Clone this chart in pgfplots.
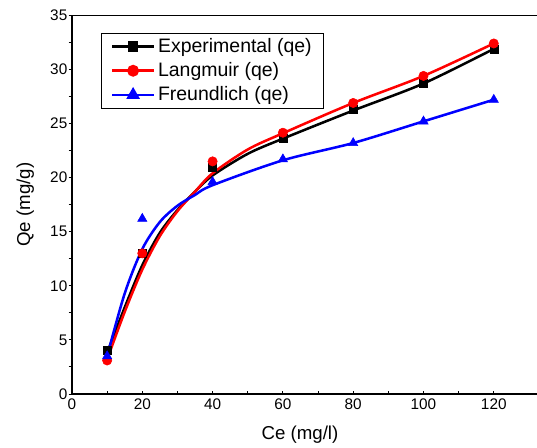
\documentclass[border=0pt]{standalone}
\usepackage{fontspec}
\setmainfont{Liberation Sans}
\usepackage{pgfplots}
\pgfplotsset{compat=1.18}

\begin{document}
\begin{tikzpicture}
\begin{axis}[
    scale only axis,
    width=348.75pt, height=284pt,
    xmin=0, xmax=132.3, ymin=0, ymax=35,
    axis lines=left,
    axis line style={-, line width=0.9pt},
    xtick={0,20,...,120}, ytick={0,5,...,35},
    minor tick num=1,
    tick align=inside,
    major tick length=2.5pt, minor tick length=2.5pt,
    y tick style={xshift=-2.5pt},
    tick style={black, line width=0.7pt},
    /pgf/number format/assume math mode=true,
    ticklabel style={font=\fontsize{11.5}{13}\selectfont},
    every axis x label/.style={at={(axis description cs:0,0)}, xshift=171pt, yshift=-30.75pt, anchor=center},
    every axis y label/.style={at={(axis description cs:0,0.5)}, xshift=-35pt, rotate=90, anchor=center},
    label style={font=\fontsize{14}{16}\selectfont},
    xlabel={Ce (mg/l)},
    ylabel={Qe (mg/g)},
    legend image code/.code={\draw[mark repeat=2,mark phase=2,#1] plot coordinates {(0pt,0pt) (15.75pt,0pt) (31.5pt,0pt)};},
    legend style={at={(axis description cs:0.0624,0.954)}, anchor=north west,
        font=\fontsize{14.6}{16}\selectfont, draw=black, line width=0.75pt,
        inner xsep=7pt, inner ysep=2pt, row sep=2pt,
        /tikz/every even column/.append style={column sep=5pt}},
    legend cell align=left,
]
% smoothed curves
\addplot[black, line width=1.9pt, smooth, forget plot] coordinates {
    (10,3.8) (15,8.0) (20,11.9) (25,14.9) (30,17.0) (35,18.7) (40,20.2)
    (50,22.2) (60,23.6) (80,26.2) (100,28.7) (120,31.9)
};
\addplot[black, only marks, mark=square*, mark size=3pt, forget plot] coordinates {
    (10,4.05) (20,13.0) (40,21.0) (60,23.6) (80,26.3) (100,28.7) (120,31.9)
};
\addplot[red, line width=1.9pt, smooth, forget plot] coordinates {
    (10,3.2) (15,7.6) (20,11.5) (25,14.6) (30,16.9) (35,18.7) (40,20.4)
    (50,22.6) (60,24.1) (80,26.9) (100,29.4) (120,32.4)
};
\addplot[red, only marks, mark=*, mark size=3.5pt, forget plot] coordinates {
    (10,3.1) (20,13.0) (40,21.5) (60,24.15) (80,26.9) (100,29.4) (120,32.4)
};
\addplot[blue, line width=1.9pt, smooth, forget plot] coordinates {
    (10,3.5) (15,9.3) (20,13.4) (25,15.9) (30,17.4) (35,18.4) (40,19.3)
    (60,21.6) (80,23.2) (100,25.2) (120,27.2)
};
\addplot[blue, only marks, mark=triangle*, mark size=4pt, forget plot] coordinates {
    (10,3.5) (20,16.2) (40,19.6) (60,21.7) (80,23.2) (100,25.2) (120,27.2)
};
\addlegendimage{black, line width=1.9pt, mark=square*, mark size=3pt}
\addlegendentry{Experimental (qe)}
\addlegendimage{red, line width=1.9pt, mark=*, mark size=3.5pt}
\addlegendentry{Langmuir (qe)}
\addlegendimage{blue, line width=1.9pt, mark=triangle*, mark size=4pt}
\addlegendentry{Freundlich (qe)}
\draw[black, line width=0.9pt] (rel axis cs:0,1) -- (rel axis cs:1,1);
\end{axis}
\pgfresetboundingbox
\path ([xshift=-54pt,yshift=-40.5pt]current axis.south west) rectangle ([yshift=11.5pt]current axis.north east);
\end{tikzpicture}
\end{document}
